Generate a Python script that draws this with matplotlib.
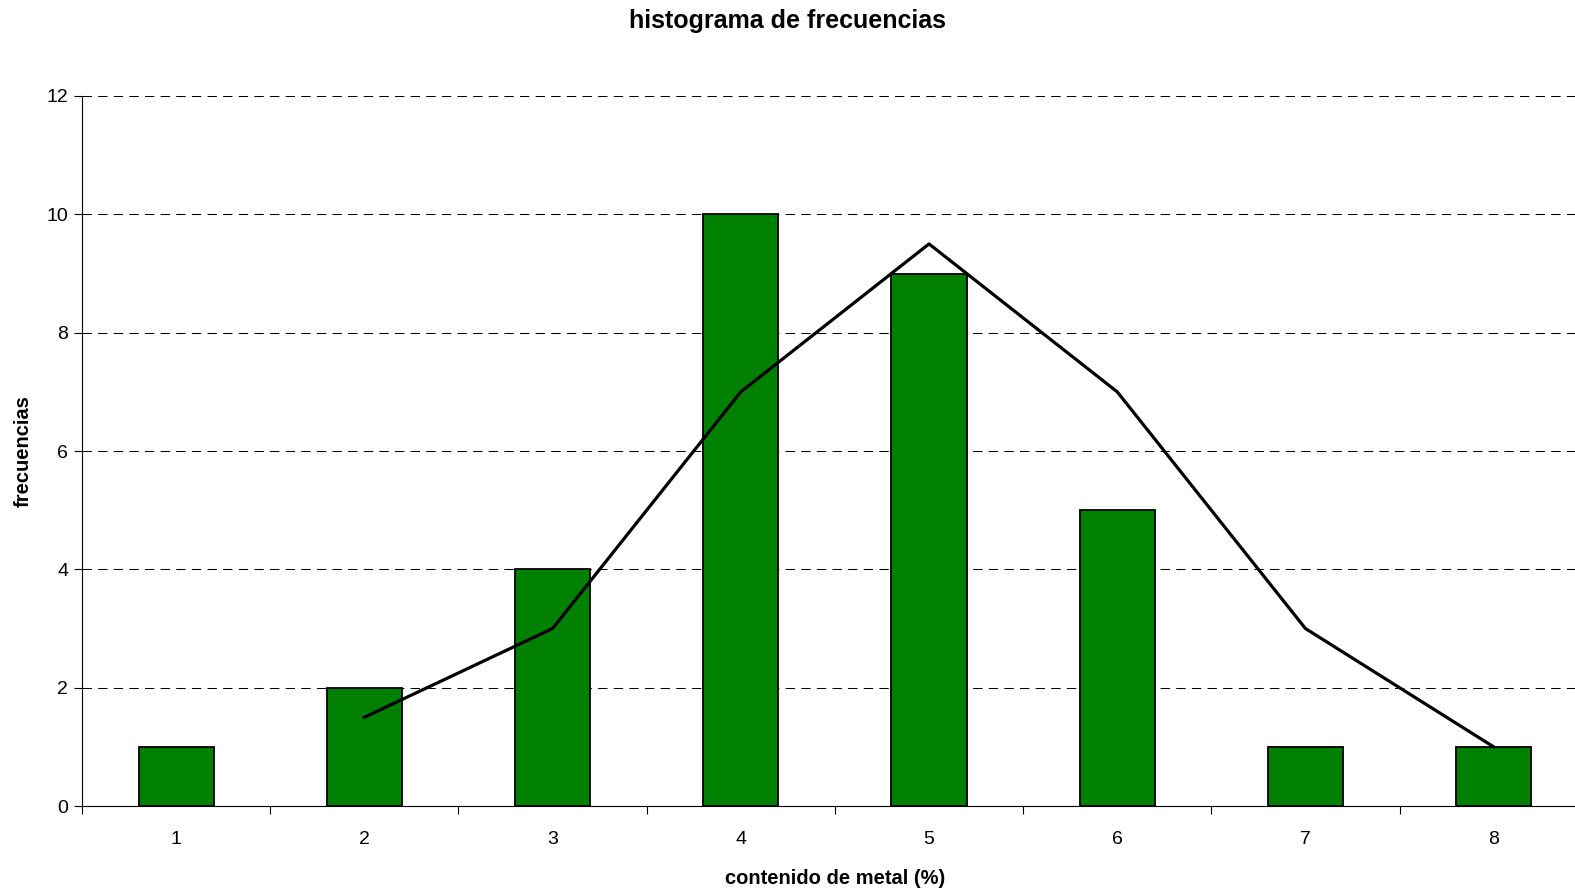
import numpy as np
import matplotlib.pyplot as plt

plt.rcParams['font.family'] = ['Liberation Sans', 'DejaVu Sans']

categories = [1, 2, 3, 4, 5, 6, 7, 8]
frecuencias = [1, 2, 4, 10, 9, 5, 1, 1]
# media movil de 2 periodos (desde la categoria 2)
media_x = [2, 3, 4, 5, 6, 7, 8]
media_y = [1.5, 3, 7, 9.5, 7, 3, 1]
yticks = [0, 2, 4, 6, 8, 10, 12]

fig = plt.figure(figsize=(15.75, 8.88), dpi=100)
ax = fig.add_axes([0.0521, 0.0923, 0.956, 0.7996])

ax.bar(categories, frecuencias, width=0.4, color='#008000',
       edgecolor='black', linewidth=1.3, zorder=3)
ax.plot(media_x, media_y, color='black', linewidth=2.3, zorder=4)

ax.set_xlim(0.5, 8.5)
ax.set_ylim(0, 12)
ax.set_yticks(yticks)
ax.set_xticks(categories)
ax.set_xticks(np.arange(0.5, 8.6, 1), minor=True)
ax.tick_params(axis='x', which='major', length=0, pad=18, labelsize=14)
ax.tick_params(axis='x', which='minor', length=6, width=0.8, direction='out')
ax.tick_params(axis='y', length=6, width=0.8, direction='out', pad=4, labelsize=14)

ax.yaxis.grid(True, color='black', linewidth=0.75, linestyle=(0, (9, 6)), zorder=0)
ax.set_axisbelow(True)

for s in ['top', 'right']:
    ax.spines[s].set_visible(False)
for s in ['left', 'bottom']:
    ax.spines[s].set_linewidth(0.8)

ax.set_xlabel('contenido de metal (%)', fontsize=14.5, fontweight='bold', labelpad=15)
ax.set_ylabel('frecuencias', fontsize=14.5, fontweight='bold', labelpad=10)
fig.text(0.5, 0.976, 'histograma de frecuencias', ha='center', va='center',
         fontsize=18, fontweight='bold')

fig.savefig('out.png', dpi=100)
